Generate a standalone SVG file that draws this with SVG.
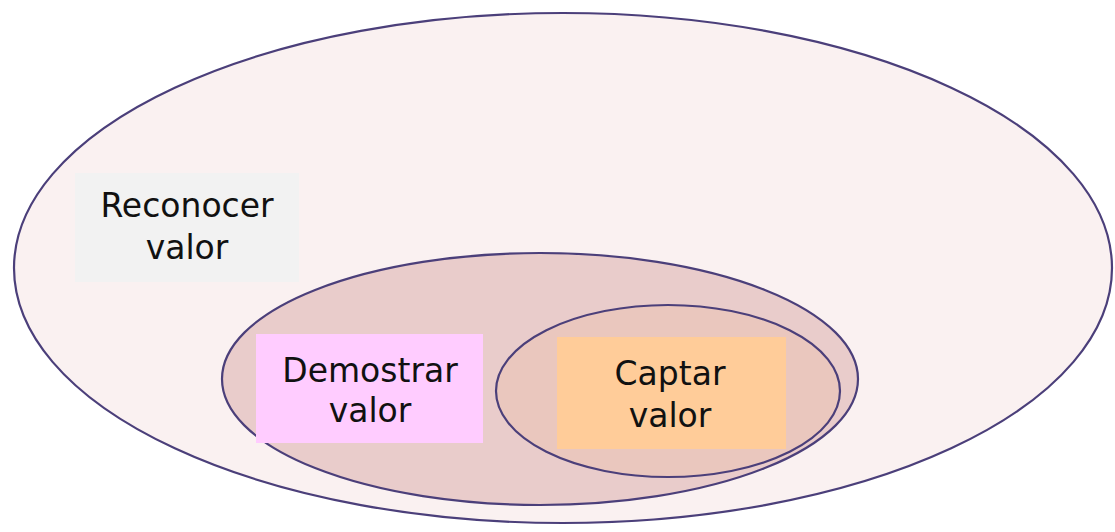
<svg xmlns="http://www.w3.org/2000/svg" width="1115" height="532" viewBox="0 0 1115 532">
<style>
.ring{stroke:#4b3f7a;stroke-width:2.2}
.lbl{font-family:"DejaVu Sans","Liberation Sans",sans-serif;font-size:33px;fill:#111;text-anchor:middle}
</style>
<rect width="1115" height="532" fill="#ffffff"/>
<g id="reconocer">
<ellipse class="ring" cx="563" cy="268" rx="549" ry="255" fill="#faf1f1"/>
<rect x="75" y="173" width="224" height="109" fill="#f2f2f2"/>
<text class="lbl" x="187" y="217">Reconocer</text>
<text class="lbl" x="187" y="259">valor</text>
</g>
<g id="demostrar">
<ellipse class="ring" cx="540" cy="379" rx="318" ry="126" fill="#e9cccb"/>
<rect x="256" y="334" width="227" height="109" fill="#ffccff"/>
<text class="lbl" x="370" y="382">Demostrar</text>
<text class="lbl" x="370" y="422">valor</text>
</g>
<g id="captar">
<ellipse class="ring" cx="668" cy="391" rx="172" ry="86" fill="#eac7be"/>
<rect x="557" y="337" width="229" height="112" fill="#ffcc99"/>
<text class="lbl" x="670" y="385">Captar</text>
<text class="lbl" x="670" y="427">valor</text>
</g>
<g id="connectors"></g>
</svg>
